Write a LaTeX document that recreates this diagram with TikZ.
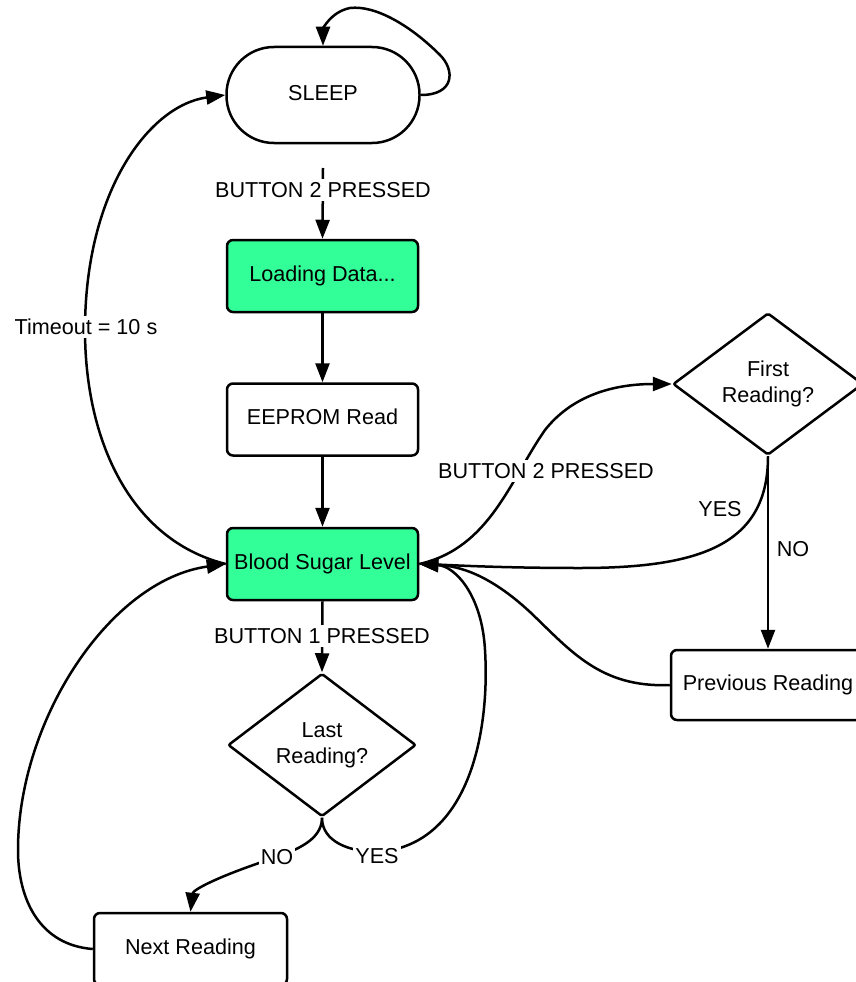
\documentclass[tikz,border=0pt]{standalone}
\usepackage{fontspec}
\setmainfont{Liberation Sans}
\usetikzlibrary{shapes.geometric,arrows.meta}
\definecolor{boxgreen}{RGB}{51,255,153}
\begin{document}
\begin{tikzpicture}[x=1pt,y=-1pt,
  every node/.style={font=\fontsize{21.6}{26}\selectfont},
  lw/.style={line width=2.5pt},
  box/.style={draw,lw,rectangle,rounded corners=6pt,minimum width=191pt,minimum height=72pt,inner sep=0pt,align=center,text height=15pt,text depth=5pt},
  greenbox/.style={box,fill=boxgreen},
  decision/.style={draw,lw,diamond,rounded corners=2pt,minimum width=188pt,minimum height=143pt,inner sep=0pt,align=center},
  conn/.style={lw,-{Triangle[length=19pt,width=14pt]}},
  lbl/.style={fill=white,inner sep=3pt}]
\useasboundingbox (0,0) rectangle (856,982);
\clip (0,0) rectangle (856,982);
\fill[white] (0,0) rectangle (856,982);

% nodes
\node[draw,lw,rectangle,rounded corners=47.5pt,minimum width=193pt,minimum height=96pt,inner sep=0pt,text height=15pt,text depth=5pt] (sleep) at (323,95) {SLEEP};
\node[greenbox] (load) at (322.5,276) {Loading Data...};
\node[box] (eeprom) at (322.5,419.5) {EEPROM Read};
\node[greenbox] (bsl) at (322.5,564) {Blood Sugar Level};
\node[decision] (last) at (322,745) {Last\\Reading?};
\node[decision,minimum width=190pt,minimum height=142pt] (first) at (768,384) {First\\Reading?};
\node[box,minimum width=194pt,minimum height=70pt] (prev) at (768,685) {Previous Reading};
\node[box,minimum width=193pt] (next) at (190.5,949) {Next Reading};

% self loop on SLEEP
\draw[conn] (sleep.east) .. controls (455,95) and (455,70) .. (440,55)
  .. controls (410,25) and (375,5) .. (350,8)
  .. controls (330,12) and (323,30) .. (sleep.north);

% SLEEP -> Loading
\coordinate (s1) at (323,168);
\draw[conn] (s1) -- (load.north);
\node[lbl] (l1) at (323,190) {BUTTON 2 PRESSED};

% straight chain
\draw[conn] (load.south) -- (eeprom.north);
\draw[conn] (eeprom.south) -- (bsl.north);

% BSL -> Last reading
\draw[conn] (bsl.south) -- (last.north);
\node[lbl] (l2) at (322,636) {BUTTON 1 PRESSED};

% Timeout: BSL -> SLEEP
\draw[conn] (bsl.west) .. controls (130,540) and (85,440) .. (85,330)
  .. controls (85,190) and (150,105) .. (sleep.west);
\node[lbl] (l3) at (86,327) {Timeout = 10 s};

% Next Reading -> BSL
\draw[conn] (next.west) .. controls (40,945) and (18,900) .. (18,850)
  .. controls (18,720) and (110,580) .. (bsl.west);

% Last reading NO -> Next
\draw[conn] (last.south) .. controls (322,842) and (292,852) .. (262,862)
  .. controls (215,878) and (193,890) .. (next.north);
\node[lbl,inner sep=2pt] (l4) at (277,857) {NO};

% Last reading YES -> BSL
\draw[conn] (last.south) .. controls (322,842) and (350,852) .. (378,852)
  .. controls (470,845) and (490,730) .. (485,650)
  .. controls (482,595) and (455,566) .. (bsl.east);
\node[lbl,inner sep=2pt] (l5) at (377,856) {YES};

% BSL -> First reading
\draw[conn] (bsl.east) .. controls (490,548) and (510,480) .. (545,430)
  .. controls (575,392) and (620,384) .. (first.west);
\node[lbl] (l6) at (546,471) {BUTTON 2 PRESSED};

% First reading YES -> BSL
\draw[conn] (first.south) .. controls (768,545) and (700,568) .. (580,568)
  .. controls (500,568) and (450,565) .. (bsl.east);
\node (l7) at (720,509) {YES};

% First reading NO -> Previous
\draw[conn] (first.south) -- (prev.north);
\node (l8) at (793,549) {NO};

% Previous -> BSL
\draw[conn] (prev.west) .. controls (600,688) and (570,650) .. (530,612)
  .. controls (490,575) and (460,566) .. (bsl.east);
\end{tikzpicture}
\end{document}
